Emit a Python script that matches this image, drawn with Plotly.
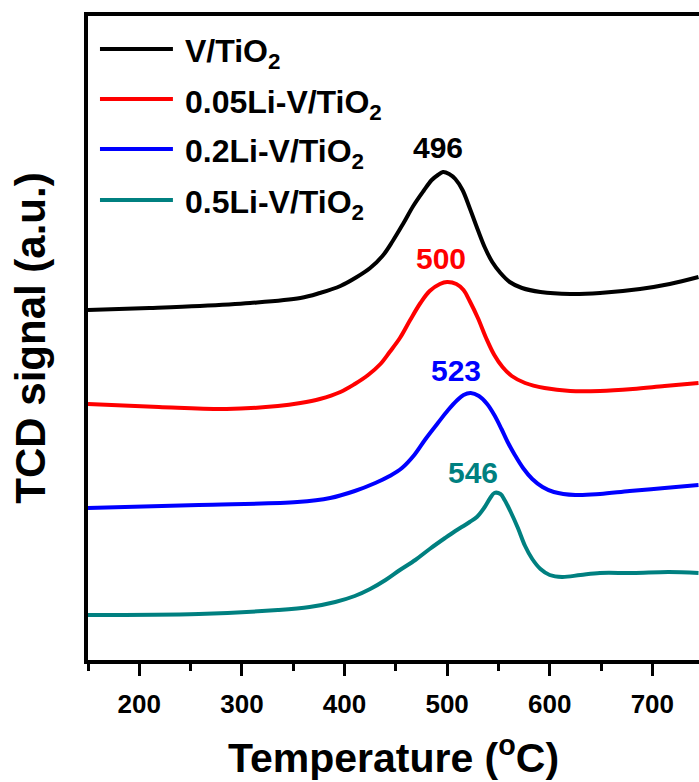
import plotly.graph_objects as go

# H2-TPR profiles: temperature (°C) vs TCD signal (a.u., curves offset vertically)
names = ["V/TiO<sub>2</sub>", "0.05Li-V/TiO<sub>2</sub>",
         "0.2Li-V/TiO<sub>2</sub>", "0.5Li-V/TiO<sub>2</sub>"]
colors = ["#000000", "#FF0000", "#0000FF", "#008080"]
peak_temps = [496, 500, 523, 546]

t_v = [150, 210, 259, 308, 357, 376, 396, 412, 425, 437, 447, 457, 467, 477, 485,
       491, 496, 502, 508, 515, 522, 530, 537, 544, 552, 561, 573, 591, 620, 649,
       688, 717, 745]
s_v = [3.50, 3.52, 3.54, 3.57, 3.62, 3.67, 3.74, 3.83, 3.92, 4.04, 4.19, 4.36, 4.54, 4.69, 4.80,
       4.85, 4.88, 4.86, 4.81, 4.70, 4.52, 4.30, 4.12, 3.98, 3.87, 3.78, 3.72, 3.68, 3.66, 3.67,
       3.71, 3.76, 3.83]

t_li005 = [150, 219, 285, 335, 357, 376, 396, 410, 423, 435, 444, 454, 464, 474, 483,
           493, 500, 509, 516, 522, 530, 538, 546, 554, 563, 576, 595, 620, 649, 681,
           712, 745]
s_li005 = [2.56, 2.53, 2.51, 2.54, 2.57, 2.61, 2.68, 2.76, 2.85, 2.96, 3.08, 3.22, 3.40, 3.57, 3.69,
           3.76, 3.78, 3.76, 3.70, 3.59, 3.42, 3.22, 3.05, 2.93, 2.84, 2.77, 2.72, 2.69, 2.69, 2.71,
           2.74, 2.77]

t_li02 = [150, 258, 354, 386, 410, 430, 444, 456, 468, 479, 491, 501, 510, 516, 523,
          531, 539, 546, 553, 559, 566, 574, 583, 593, 604, 625, 649, 678, 712, 745]
s_li02 = [1.52, 1.55, 1.58, 1.62, 1.69, 1.77, 1.84, 1.92, 2.05, 2.21, 2.37, 2.50, 2.60, 2.65, 2.67,
          2.64, 2.56, 2.45, 2.31, 2.18, 2.05, 1.92, 1.81, 1.73, 1.68, 1.65, 1.66, 1.69, 1.72, 1.75]

t_li05 = [150, 258, 335, 366, 391, 410, 425, 440, 454, 469, 483, 498, 508, 516, 522,
          529, 536, 542, 546, 552, 556, 562, 569, 576, 583, 591, 600, 612, 630, 649,
          681, 716, 745]
s_li05 = [0.45, 0.46, 0.50, 0.53, 0.58, 0.64, 0.71, 0.80, 0.90, 1.00, 1.11, 1.22, 1.29, 1.34, 1.38,
          1.43, 1.52, 1.62, 1.67, 1.66, 1.60, 1.48, 1.32, 1.14, 1.01, 0.91, 0.85, 0.83, 0.85, 0.87,
          0.87, 0.88, 0.87]

x_ticks = [200, 300, 400, 500, 600, 700]

series = [(t_v, s_v), (t_li005, s_li005), (t_li02, s_li02), (t_li05, s_li05)]

FONT = "Liberation Sans, Arial, sans-serif"

fig = go.Figure()
for (t, s), name, col in zip(series, names, colors):
    fig.add_trace(go.Scatter(
        x=t, y=s, mode="lines", name=name,
        line=dict(color=col, width=4, shape="spline", smoothing=1.0),
        showlegend=False,
    ))

# peak temperature labels placed just above each maximum
label_shift = [(-5, 25), (-6, 24), (-15, 23), (-21, 21)]
for (t, s), pk, col, (dx, dy) in zip(series, peak_temps, colors, label_shift):
    i = t.index(pk)
    fig.add_annotation(
        x=pk, y=s[i], text=str(pk), showarrow=False,
        xshift=dx, yshift=dy, xanchor="center", yanchor="middle",
        font=dict(family=FONT, size=30, color=col, weight="bold"),
    )

# legend drawn as line samples plus labels in the upper-left corner
legend_y = [0.9488, 0.8711, 0.7935, 0.7143]
for name, col, ly in zip(names, colors, legend_y):
    fig.add_shape(type="line", xref="paper", yref="paper",
                  x0=0.0196, x1=0.139, y0=ly, y1=ly,
                  line=dict(color=col, width=4))
    fig.add_annotation(
        xref="paper", yref="paper", x=0.1555, y=ly, text=name,
        showarrow=False, xanchor="left", yanchor="middle", yshift=-5,
        font=dict(family=FONT, size=32, color="#000000", weight="bold"),
    )

fig.update_layout(
    width=699, height=782,
    margin=dict(l=88, r=0, t=16, b=122),
    paper_bgcolor="white", plot_bgcolor="white",
    xaxis=dict(
        range=[150, 745.5],
        tickvals=x_ticks,
        ticks="outside", ticklen=12, tickwidth=3, tickcolor="black",
        minor=dict(dtick=50, tick0=150, ticks="outside", ticklen=7,
                   tickwidth=3, tickcolor="black"),
        showline=True, linewidth=4, linecolor="black", mirror=True,
        showgrid=False, zeroline=False,
        ticklabelstandoff=6,
        tickfont=dict(family=FONT, size=26, color="black", weight="bold"),
        title=dict(text="Temperature (<sup>o</sup>C)", standoff=26,
                   font=dict(family=FONT, size=41, color="black", weight="bold")),
    ),
    yaxis=dict(
        range=[0, 6.44],
        showticklabels=False, ticks="",
        showline=True, linewidth=4, linecolor="black", mirror=False,
        showgrid=False, zeroline=False,
        title=dict(text="TCD signal (a.u.)", standoff=26,
                   font=dict(family=FONT, size=42, color="black", weight="bold")),
    ),
)

fig.write_html("out.html")
